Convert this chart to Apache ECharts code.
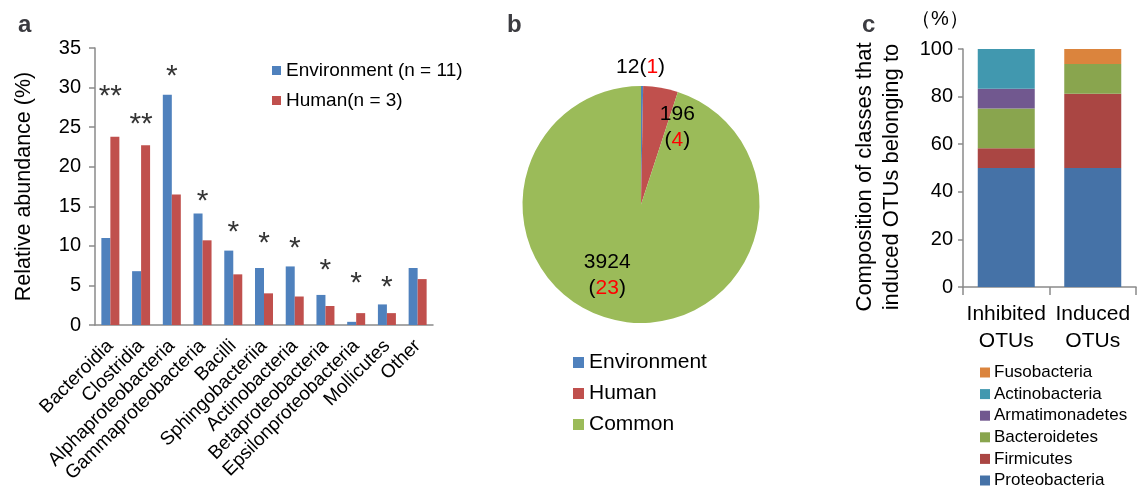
<!DOCTYPE html>
<html lang="en">
<head>
  <meta charset="utf-8" />
  <title>OTU composition</title>
  <script src="https://cdn.jsdelivr.net/npm/echarts@6/dist/echarts.min.js"></script>
</head>
<body style="margin: 0; background: #fff;">
<div id="chart" style="width: 1143px; height: 487px;"></div>
<script>
  // panel a: relative abundance by class
  const classesA = ['Bacteroidia', 'Clostridia', 'Alphaproteobacteria', 'Gammaproteobacteria', 'Bacilli',
    'Sphingobacteriia', 'Actinobacteria', 'Betaproteobacteria', 'Epsilonproteobacteria', 'Mollicutes', 'Other'];
  const environment = [11.0, 6.8, 29.1, 14.1, 9.4, 7.2, 7.4, 3.8, 0.4, 2.6, 7.2];
  const human = [23.8, 22.7, 16.5, 10.7, 6.4, 4.0, 3.6, 2.4, 1.5, 1.5, 5.8];
  const stars = ['**', '**', '*', '*', '*', '*', '*', '*', '*', '*', ''];
  const starLevel = [29.5, 25.9, 32.0, 16.2, 12.3, 10.9, 10.3, 7.5, 5.8, 5.4, null];

  // panel b: OTU counts (human-associated counts in red)
  const pieNames = ['Environment', 'Human', 'Common'];
  const pieOTUs = [12, 196, 3924];
  const pieSub = [1, 4, 23];

  // panel c: composition of classes
  const groupsC = ['Inhibited\nOTUs', 'Induced\nOTUs'];
  const classesC = ['Proteobacteria', 'Firmicutes', 'Bacteroidetes', 'Armatimonadetes', 'Actinobacteria', 'Fusobacteria'];
  const inhibited = [50, 8.33, 16.67, 8.33, 16.67, 0];
  const induced = [50, 31.25, 12.5, 0, 0, 6.25];

  const FONT = '"Liberation Sans", Arial, sans-serif';
  const colorsC = ['#4572A7', '#AA4643', '#89A54E', '#71588F', '#4198AF', '#DB843D'];
  const axisGray = '#8a8a8a';

  const chart = echarts.init(document.getElementById('chart'));

  // pie labels sit at the slice middle, nudged to where the figure put them
  const pieOffsets = [[-1, -75], [26, -16], [-24, 9]];
  const pieData = pieNames.map((n, i) => ({
    name: n,
    value: pieOTUs[i],
    label: {
      offset: pieOffsets[i],
      formatter: i === 0 ? pieOTUs[i] + '({r|' + pieSub[i] + '})' : pieOTUs[i] + '\n({r|' + pieSub[i] + '})'
    }
  }));

  const option = {
    animation: false,
    textStyle: { fontFamily: FONT, color: '#000' },
    title: [
      { text: 'a', left: 13, top: 8, textStyle: { fontSize: 24, fontWeight: 'bold', fontFamily: FONT } },
      { text: 'b', left: 502, top: 8, textStyle: { fontSize: 24, fontWeight: 'bold', fontFamily: FONT } },
      { text: 'c', left: 857, top: 8, textStyle: { fontSize: 24, fontWeight: 'bold', fontFamily: FONT } }
    ],
    graphic: [
      { type: 'text', left: 911, top: 9, style: { text: '（%）', fontSize: 20, fontFamily: FONT, fill: '#000' } }
    ],
    color: ['#4F81BD', '#C0504D'],
    legend: [
      {
        data: ['Environment (n = 11)', 'Human(n = 3)'],
        orient: 'vertical', left: 272, top: 61, padding: 0, itemWidth: 9, itemHeight: 9, itemGap: 11,
        icon: 'rect', textStyle: { fontSize: 19, fontFamily: FONT, color: '#000' }
      },
      {
        data: pieNames,
        orient: 'vertical', left: 573, top: 352, padding: 0, itemWidth: 11, itemHeight: 11, itemGap: 10,
        icon: 'rect', textStyle: { fontSize: 21, fontFamily: FONT, color: '#000' }
      },
      {
        data: classesC.slice().reverse(),
        orient: 'vertical', left: 980, top: 364, height: 140, padding: 0, itemWidth: 10, itemHeight: 10, itemGap: 4.6,
        icon: 'rect', textStyle: { fontSize: 17, fontFamily: FONT, color: '#000', padding: [0, 0, 0, -1] }
      }
    ],
    grid: [
      { left: 95, top: 48, width: 338, height: 277 },
      { left: 963, top: 49, width: 173, height: 238 }
    ],
    xAxis: [
      {
        type: 'category', gridIndex: 0, data: classesA,
        axisLine: { lineStyle: { color: axisGray, width: 1.5 } },
        axisTick: { show: false },
        axisLabel: { interval: 0, rotate: 45, fontSize: 19, color: '#000', margin: 18, fontFamily: FONT }
      },
      {
        type: 'category', gridIndex: 1, data: groupsC,
        axisLine: { lineStyle: { color: axisGray, width: 1.5 } },
        axisTick: { show: true, length: 8, lineStyle: { color: axisGray, width: 1.5 } },
        axisLabel: { interval: 0, fontSize: 21, color: '#000', margin: 14, lineHeight: 27, fontFamily: FONT }
      }
    ],
    yAxis: [
      {
        type: 'value', gridIndex: 0, min: 0, max: 35, interval: 5,
        name: 'Relative abundance (%)', nameLocation: 'middle', nameGap: 60,
        nameTextStyle: { fontSize: 21.5, color: '#000', fontFamily: FONT },
        axisLine: { show: true, lineStyle: { color: axisGray, width: 1.5 } },
        axisTick: { show: true, length: 6, lineStyle: { color: axisGray, width: 1.5 } },
        axisLabel: { fontSize: 20, color: '#000', margin: 14, fontFamily: FONT },
        splitLine: { show: false }
      },
      {
        type: 'value', gridIndex: 1, min: 0, max: 100, interval: 20,
        name: 'Composition of classes that\ninduced OTUs belonging to', nameLocation: 'middle', nameGap: 58,
        nameTextStyle: { fontSize: 22, lineHeight: 27, color: '#000', fontFamily: FONT, padding: [0, 18, 0, 0] },
        axisLine: { show: true, lineStyle: { color: axisGray, width: 1.5 } },
        axisTick: { show: true, length: 5, lineStyle: { color: axisGray, width: 1.5 } },
        axisLabel: { fontSize: 20, color: '#000', margin: 10, fontFamily: FONT },
        splitLine: { show: false }
      }
    ],
    series: [
      {
        name: 'Environment (n = 11)', type: 'bar', xAxisIndex: 0, yAxisIndex: 0,
        data: environment, barWidth: 9, barGap: '0%', itemStyle: { color: '#4F81BD' }
      },
      {
        name: 'Human(n = 3)', type: 'bar', xAxisIndex: 0, yAxisIndex: 0,
        data: human, barWidth: 9, barGap: '0%', itemStyle: { color: '#C0504D' }
      },
      {
        type: 'scatter', xAxisIndex: 0, yAxisIndex: 0, symbolSize: 0, silent: true,
        data: starLevel,
        label: {
          show: true, position: 'inside', offset: [0, 5], fontSize: 30, color: '#000', fontFamily: FONT,
          formatter: p => stars[p.dataIndex]
        }
      },
      {
        type: 'pie', center: [641, 204.5], radius: 118.5, startAngle: 90, clockwise: true,
        data: pieData, color: ['#4F81BD', '#C0504D', '#9BBB59'],
        labelLine: { show: false },
        label: {
          show: true, position: 'inside', fontSize: 21, lineHeight: 26, color: '#000', fontFamily: FONT,
          rich: { r: { color: '#ff0000', fontSize: 21, fontFamily: FONT } }
        },
        emphasis: { disabled: true }
      }
    ].concat(classesC.map((c, i) => ({
      name: c, type: 'bar', stack: 'comp', xAxisIndex: 1, yAxisIndex: 1,
      data: [inhibited[i], induced[i]], barWidth: 57, itemStyle: { color: colorsC[i] }
    })))
  };

  chart.setOption(option);
</script>
</body>
</html>
